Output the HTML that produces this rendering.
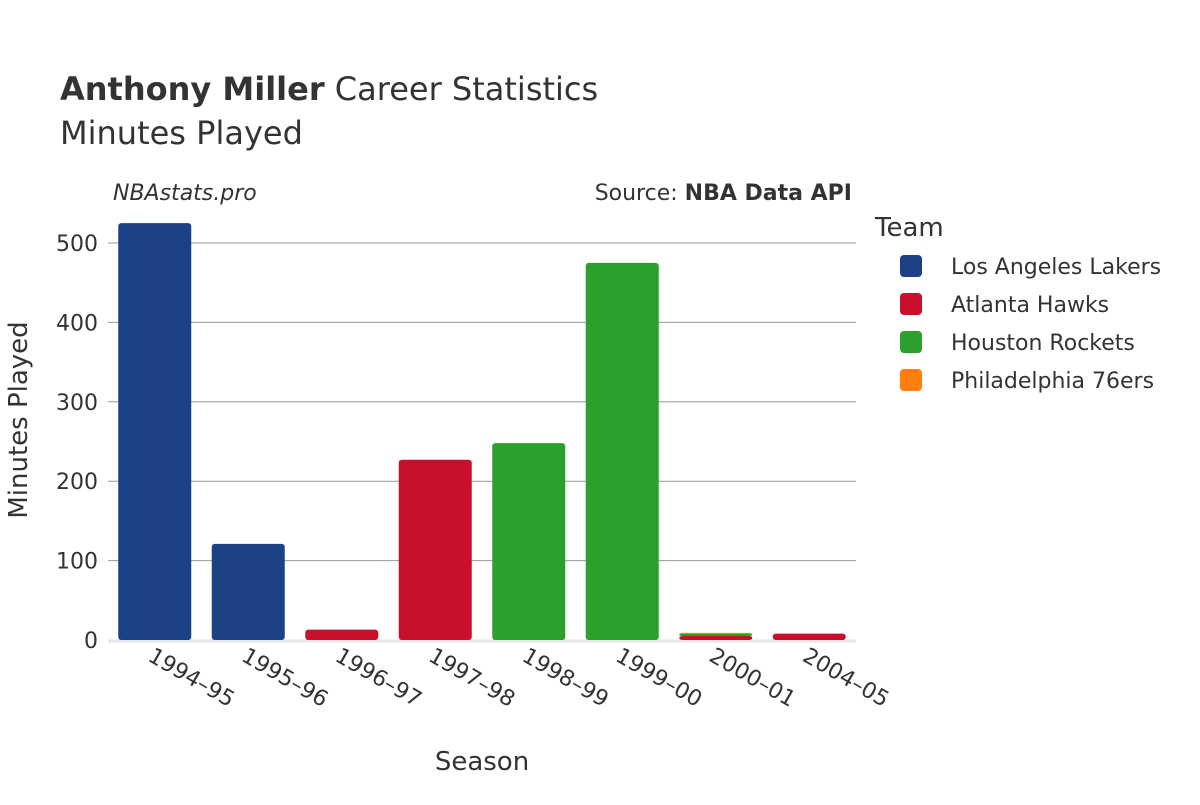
<!DOCTYPE html>
<html><head><meta charset="utf-8"><style>
body{margin:0;background:#fff;font-family:"Liberation Sans","DejaVu Sans",sans-serif;}
svg text{font-family:"DejaVu Sans","Liberation Sans",sans-serif;fill:#333;}
</style></head><body>
<svg id="chart" width="1200" height="800">
<text x="60" y="100" font-size="32"><tspan font-weight="bold">Anthony Miller</tspan> Career Statistics</text>
<text x="60" y="144" font-size="32">Minutes Played</text>
<text x="113" y="200" font-size="22" font-style="italic">NBAstats.pro</text>
<text x="852" y="200" font-size="22" text-anchor="end">Source: <tspan font-weight="bold">NBA Data API</tspan></text>
<g id="grid"></g><g id="bars"></g><g id="xt"></g>
<text x="482" y="770" font-size="26" text-anchor="middle">Season</text>
<text transform="translate(27,420) rotate(-90)" font-size="26" text-anchor="middle">Minutes Played</text>
<text x="875" y="236" font-size="26">Team</text>
<g id="legend"></g>
</svg>
<script>
const seasons=["1994–95","1995–96","1996–97","1997–98","1998–99","1999–00","2000–01","2004–05"];
const teams=["Los Angeles Lakers","Atlanta Hawks","Houston Rockets","Philadelphia 76ers"];
const colors=["#1d4185","#c8102e","#2ca02c","#ff7f0e"];
const lakers=[525,121,0,0,0,0,0,0];
const hawks=[0,0,13,227,0,0,5,8];
const rockets=[0,0,0,0,248,475,3,0];
const sixers=[0,0,0,0,0,0,1,0];
const yTicks=[0,100,200,300,400,500];
const series=[lakers,hawks,rockets,sixers];
const NS="http://www.w3.org/2000/svg";
const x0=108,x1=856,y0=640,y500=243;
const y=v=>y0-(y0-y500)*v/500;
const step=(x1-x0)/seasons.length;
const xc=i=>x0+step*(i+0.5);
const bw=73;
function mk(t,a,p){const e=document.createElementNS(NS,t);for(const k in a)e.setAttribute(k,a[k]);p.appendChild(e);return e;}
const g=document.getElementById('grid');
yTicks.forEach(v=>{
  if(v>0){const l=mk('line',{x1:x0,x2:x1,y1:y(v),y2:y(v),stroke:'#999','stroke-width':1},g);
  
  }
  const t=mk('text',{x:98,y:y(v)+8,'font-size':22,'text-anchor':'end'},g);t.textContent=v;
  
  
});
const base=mk('line',{x1:x0,x2:x1,y1:y0+1,y2:y0+1,stroke:'#e6e6e6','stroke-width':3},g);


const b=document.getElementById('bars');
seasons.forEach((s,i)=>{
  let acc=0;
  series.forEach((ser,k)=>{
    const v=ser[i];if(!v)return;
    const r=mk('rect',{x:xc(i)-bw/2,y:y(acc+v),width:bw,height:y(acc)-y(acc+v),fill:colors[k],rx:3},b);
    
    
    acc+=v;
  });
  const t=mk('text',{transform:`translate(${xc(i)-8},${660}) rotate(30)`,'font-size':22},document.getElementById('xt'));
  t.textContent=s;
  
  
});
const lg=document.getElementById('legend');
teams.forEach((t,k)=>{
  const yy=266+k*38;
  const r=mk('rect',{x:900,y:yy-11,width:22,height:22,rx:4,fill:colors[k]},lg);
  
  
  const tx=mk('text',{x:951,y:yy+8,'font-size':22},lg);tx.textContent=t;
  
  
});
</script>
</body></html>
